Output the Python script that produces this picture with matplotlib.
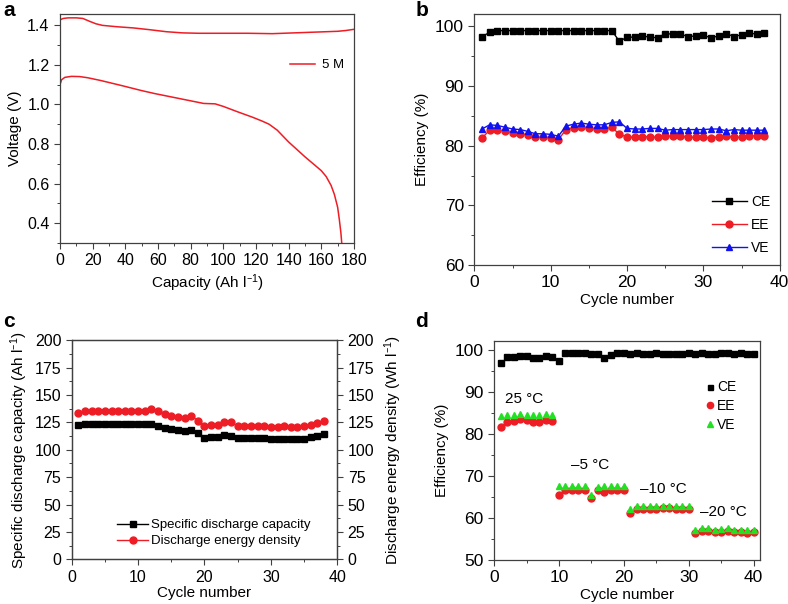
import matplotlib
matplotlib.use('Agg')
import matplotlib.pyplot as plt
from matplotlib.ticker import MultipleLocator

plt.rcParams['font.family'] = ['Liberation Sans', 'DejaVu Sans']
plt.rcParams['mathtext.default'] = 'regular'
plt.rcParams['font.size'] = 11

# --- a: charge / discharge curve (5 M)
charge_cap = [0, 2, 5, 10, 14, 18, 22, 26, 35, 45, 55, 65, 75, 85, 100, 115, 130, 140, 150, 160, 170, 175, 180]
charge_v = [1.428, 1.435, 1.438, 1.438, 1.435, 1.421, 1.408, 1.400, 1.393, 1.387, 1.378, 1.368, 1.362, 1.360,
            1.360, 1.360, 1.358, 1.361, 1.364, 1.367, 1.370, 1.374, 1.380]
discharge_cap = [0, 1, 3, 7, 12, 17, 25, 38, 50, 58, 70, 79, 88, 95, 100, 109, 118, 124, 128, 133, 140, 146,
                 150, 155, 160, 163, 166, 168, 170, 171, 172, 172.5]
discharge_v = [1.10, 1.125, 1.137, 1.142, 1.141, 1.135, 1.121, 1.095, 1.07, 1.055, 1.035, 1.02, 1.005, 1.003,
               0.99, 0.962, 0.935, 0.915, 0.90, 0.87, 0.81, 0.765, 0.735, 0.70, 0.665, 0.635, 0.59, 0.545,
               0.48, 0.42, 0.35, 0.30]

# --- b: efficiencies over 38 cycles
cycles_b = list(range(1, 39))
ce_b = [98.3, 99.0, 99.3, 99.3, 99.3, 99.3, 99.3, 99.3, 99.3, 99.3, 99.3, 99.3, 99.3, 99.3, 99.3, 99.3, 99.3,
        99.3, 97.5, 98.2, 98.2, 98.4, 98.2, 98.1, 98.8, 98.7, 98.7, 98.3, 98.4, 98.5, 98.1, 98.4, 98.8, 98.3,
        98.6, 98.9, 98.7, 98.9]
ee_b = [81.3, 82.6, 82.7, 82.4, 82.2, 82.0, 81.8, 81.4, 81.4, 81.3, 81.0, 82.7, 83.0, 83.1, 82.95, 82.8, 82.8,
        83.1, 81.9, 81.5, 81.4, 81.5, 81.5, 81.4, 81.6, 81.6, 81.6, 81.4, 81.4, 81.4, 81.3, 81.5, 81.6, 81.4,
        81.4, 81.7, 81.6, 81.7]
ve_b = [82.8, 83.5, 83.4, 83.1, 82.8, 82.7, 82.4, 82.0, 82.0, 81.9, 81.6, 83.3, 83.6, 83.8, 83.6, 83.5, 83.5,
        83.9, 84.0, 82.9, 82.8, 82.8, 82.9, 82.9, 82.6, 82.7, 82.7, 82.7, 82.7, 82.7, 82.8, 82.8, 82.5, 82.7,
        82.6, 82.6, 82.6, 82.6]

# --- c: capacity and energy density
cycles_c = list(range(1, 39))
capacity_c = [122.5, 123.6, 123.6, 123.6, 123.6, 123.6, 123.6, 123.6, 123.6, 123.6, 123.6, 123.6, 122.0, 120.2,
              119.0, 118.0, 117.4, 118.3, 115.6, 111.0, 112.0, 112.0, 113.5, 113.0, 111.0, 111.0, 111.0, 111.0,
              111.0, 110.0, 109.5, 110.0, 110.0, 109.5, 110.0, 112.0, 113.0, 114.5]
energy_c = [133.5, 135.4, 135.6, 135.6, 135.4, 135.4, 135.4, 135.2, 135.2, 135.0, 135.0, 136.9, 135.4, 133.0,
            131.2, 130.3, 128.8, 130.9, 126.7, 122.1, 123.0, 123.0, 125.0, 125.0, 122.0, 122.0, 122.0, 122.0,
            122.0, 121.0, 121.0, 121.5, 121.0, 121.0, 122.0, 123.0, 124.5, 126.0]

# --- d: efficiencies at different temperatures
cycles_d = list(range(1, 41))
ce_d = [96.9, 98.3, 98.3, 98.6, 98.5, 98.1, 98.0, 98.5, 98.2, 97.2, 99.1, 99.1, 99.1, 99.1, 98.9, 98.9, 98.1,
        98.8, 99.1, 99.1, 98.9, 99.1, 98.9, 99.0, 99.1, 99.0, 99.0, 99.0, 99.0, 99.1, 99.0, 99.1, 99.0, 99.0,
        99.2, 99.2, 99.0, 99.2, 99.0, 99.0]
ee_d = [81.7, 82.9, 83.1, 83.4, 83.3, 82.8, 82.7, 83.3, 83.0,
        65.5, 66.7, 66.7, 66.7, 66.7, 64.7, 66.7, 66.2, 66.5, 66.5, 66.5,
        61.2, 62.1, 62.0, 62.1, 62.1, 62.2, 62.2, 62.1, 62.0, 62.0,
        56.3, 56.9, 56.9, 56.6, 56.7, 56.9, 56.6, 56.6, 56.4, 56.6]
ve_d = [84.3, 84.4, 84.5, 84.6, 84.5, 84.5, 84.4, 84.6, 84.5,
        67.6, 67.5, 67.5, 67.5, 67.5, 65.4, 67.4, 67.5, 67.5, 67.5, 67.5,
        62.0, 62.8, 62.8, 62.8, 62.8, 62.9, 62.9, 62.8, 62.7, 62.7,
        57.1, 57.6, 57.6, 57.1, 57.3, 57.6, 57.1, 57.1, 57.1, 57.1]
temp_labels = ['25 °C', '–5 °C', '–10 °C', '–20 °C']
temp_pos = [(4.6, 88.2), (14.8, 72.5), (26.1, 66.8), (35.4, 61.4)]

RED = '#ee1c24'
BLUE = '#1010f0'
GREEN = '#22e022'


def style(ax, tick_size=11):
    for s in ax.spines.values():
        s.set_color('0.25')
        s.set_linewidth(0.9)
    ax.tick_params(which='both', direction='out', top=False, right=False, color='0.25')
    ax.tick_params(which='major', length=4, width=0.8, labelsize=tick_size)
    ax.tick_params(which='minor', length=2.5, width=0.7)


fig = plt.figure(figsize=(7.88, 6.04), dpi=100)

# a
ax_a = fig.add_axes([0.0761, 0.598, 0.3731, 0.378])
ax_a.plot(charge_cap, charge_v, color=RED, lw=1.1, label='5 M')
ax_a.plot(discharge_cap, discharge_v, color=RED, lw=1.1)
ax_a.set_xlim(0, 180)
ax_a.set_ylim(0.3, 1.455)
ax_a.xaxis.set_major_locator(MultipleLocator(20))
ax_a.xaxis.set_minor_locator(MultipleLocator(10))
ax_a.yaxis.set_major_locator(MultipleLocator(0.2))
ax_a.yaxis.set_minor_locator(MultipleLocator(0.1))
ax_a.set_xlabel('Capacity (Ah l$^{–1}$)', labelpad=3)
ax_a.set_ylabel('Voltage (V)', labelpad=4)
ax_a.legend(loc='center left', bbox_to_anchor=(0.765, 0.778), borderaxespad=0, frameon=False,
            handlelength=1.9, handletextpad=0.5, fontsize=9.5)
style(ax_a, 11.5)

# b
ax_b = fig.add_axes([0.602, 0.5613, 0.3875, 0.4147])
ax_b.plot(cycles_b, ce_b, color='black', marker='s', ms=4.5, lw=1, label='CE')
ax_b.plot(cycles_b, ee_b, color=RED, marker='o', ms=5, lw=1, label='EE')
ax_b.plot(cycles_b, ve_b, color=BLUE, marker='^', ms=5, lw=1, label='VE')
ax_b.set_xlim(0, 40)
ax_b.set_ylim(60, 102)
ax_b.xaxis.set_major_locator(MultipleLocator(10))
ax_b.xaxis.set_minor_locator(MultipleLocator(5))
ax_b.yaxis.set_major_locator(MultipleLocator(10))
ax_b.yaxis.set_minor_locator(MultipleLocator(5))
ax_b.set_xlabel('Cycle number', labelpad=2)
ax_b.set_ylabel('Efficiency (%)', labelpad=4)
ax_b.legend(loc='lower right', frameon=False, handlelength=2.5, handletextpad=0.3, fontsize=10,
            labelspacing=0.65, borderaxespad=0.3)
style(ax_b, 12.5)

# c
ax_c = fig.add_axes([0.091, 0.074, 0.337, 0.3626])
ax_c2 = ax_c.twinx()
l1, = ax_c.plot(cycles_c, capacity_c, color='black', marker='s', ms=4.5, lw=1, label='Specific discharge capacity')
l2, = ax_c2.plot(cycles_c, energy_c, color=RED, marker='o', ms=5, lw=1, label='Discharge energy density')
for ax in (ax_c, ax_c2):
    ax.set_ylim(0, 200)
    ax.yaxis.set_major_locator(MultipleLocator(25))
    ax.yaxis.set_minor_locator(MultipleLocator(12.5))
ax_c.set_xlim(0, 40)
ax_c.xaxis.set_major_locator(MultipleLocator(10))
ax_c.xaxis.set_minor_locator(MultipleLocator(5))
ax_c.set_xlabel('Cycle number', labelpad=1)
ax_c.set_ylabel('Specific discharge capacity (Ah l$^{–1}$)', labelpad=3)
ax_c2.set_ylabel('Discharge energy density (Wh l$^{–1}$)', labelpad=6)
ax_c.legend([l1, l2], [l1.get_label(), l2.get_label()], loc='lower left', bbox_to_anchor=(0.15, 0.03),
            borderaxespad=0, frameon=False, handlelength=2.4, handletextpad=0.2, fontsize=9.5,
            labelspacing=0.3)
style(ax_c, 11.5)
style(ax_c2, 11.5)
ax_c2.tick_params(which='both', right=True, left=False)

# d
ax_d = fig.add_axes([0.627, 0.0733, 0.3375, 0.3617])
ax_d.plot(cycles_d, ce_d, color='black', marker='s', ms=4, ls='none', label='CE')
ax_d.plot(cycles_d, ee_d, color=RED, marker='o', ms=5, ls='none', label='EE')
ax_d.plot(cycles_d, ve_d, color=GREEN, marker='^', ms=5, ls='none', label='VE')
for txt, (x, y) in zip(temp_labels, temp_pos):
    ax_d.text(x, y, txt, ha='center', va='center', fontsize=11)
ax_d.set_xlim(0, 41)
ax_d.set_ylim(50, 102)
ax_d.xaxis.set_major_locator(MultipleLocator(10))
ax_d.xaxis.set_minor_locator(MultipleLocator(5))
ax_d.yaxis.set_major_locator(MultipleLocator(10))
ax_d.yaxis.set_minor_locator(MultipleLocator(5))
ax_d.set_xlabel('Cycle number', labelpad=2)
ax_d.set_ylabel('Efficiency (%)', labelpad=4)
ax_d.legend(loc='upper left', bbox_to_anchor=(0.775, 0.846), borderaxespad=0, frameon=False,
            handlelength=0.6, handletextpad=0.2, fontsize=10, labelspacing=0.35, markerscale=0.9)
style(ax_d, 12.5)

# panel letters
for letter, x, y in [('a', 0.004, 0.998), ('b', 0.527, 0.998), ('c', 0.004, 0.483), ('d', 0.527, 0.483)]:
    fig.text(x, y, letter, fontsize=15, fontweight='bold', va='top', ha='left')

fig.savefig('out.png', dpi=100)
